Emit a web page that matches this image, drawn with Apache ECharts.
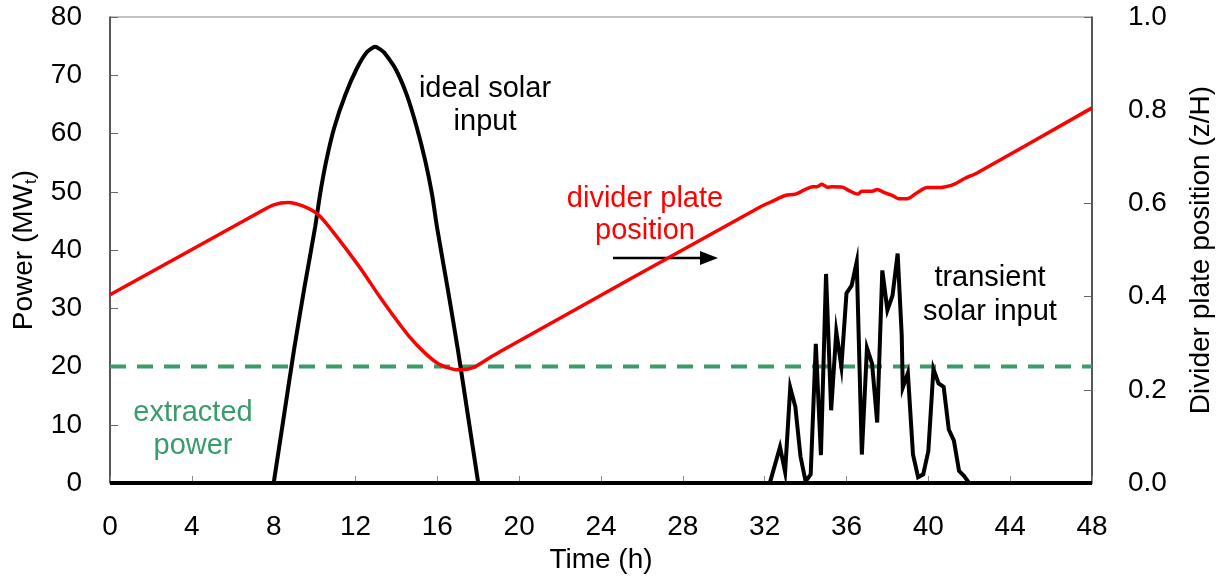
<!DOCTYPE html>
<html>
<head>
<meta charset="utf-8">
<script src="https://cdn.jsdelivr.net/npm/echarts@6/dist/echarts.min.js"></script>
<style>
  html, body { margin: 0; padding: 0; background: #fff; overflow: hidden; }
  #main { width: 1225px; height: 579px; }
</style>
</head>
<body>
<div id="main"></div>
<script>
// zero solar input between the two days, MWt
var baselineTime  = [0, 48];
var baselinePower = [0, 0];

// ideal solar input (first day), MWt
var idealTime  = [8, 8.5, 9, 9.5, 10.03, 10.27, 10.57, 10.96, 11.5, 12.07, 12.56, 12.96, 13.37, 13.94, 14.51, 15, 15.41, 15.74, 15.98, 16.5, 17, 17.5, 18];
var idealPower = [0, 11.5, 23, 33.5, 44, 49.6, 55.3, 61, 66.6, 71.2, 74, 74.9, 74, 71.2, 66.6, 61, 55.3, 49.6, 44, 33.5, 23, 11.5, 0];

// transient solar input (second day), MWt
var transientTime  = [32.25, 32.75, 33, 33.25, 33.5, 33.75, 34, 34.25, 34.5, 34.75, 35, 35.25, 35.5, 35.75, 36, 36.25, 36.5, 36.75, 37, 37.25, 37.5, 37.75, 38, 38.25, 38.5, 38.7, 38.75, 39, 39.25, 39.5, 39.75, 40, 40.25, 40.5, 40.75, 41, 41.25, 41.5, 41.75, 42];
var transientPower = [0, 6.2, 1.9, 16.4, 13.1, 4.6, 0.3, 1.5, 23.9, 4.8, 35.9, 12.5, 26, 20, 32.6, 33.9, 38, 4.9, 23.2, 20.5, 10.4, 36.5, 29.7, 32.2, 39.4, 25.3, 16.4, 18.9, 4.9, 1.0, 1.5, 5.5, 19.6, 17.1, 16.5, 9.2, 7.3, 2.1, 1.2, 0];

// divider plate position z/H (right axis)
var plateTime = [0, 7.34, 8, 8.7, 9.45, 10.2, 10.9, 11.65, 12.4, 13.1, 13.85, 14.6, 15.35, 16.05, 16.8, 17.15, 17.8, 18.6, 19.1, 31.8, 32.45, 33, 33.5, 33.9, 34.35, 34.55, 34.8, 35.05, 35.3, 35.8, 36.1, 36.55, 36.75, 37.25, 37.5, 37.85, 38.25, 38.55, 38.95, 39.45, 39.95, 40.45, 40.85, 41.25, 41.75, 42.4, 48];
var platePos  = [0.404, 0.582, 0.597, 0.602, 0.594, 0.575, 0.539, 0.496, 0.451, 0.405, 0.359, 0.316, 0.281, 0.256, 0.244, 0.243, 0.249, 0.270, 0.283, 0.593, 0.606, 0.617, 0.62, 0.628, 0.636, 0.636, 0.641, 0.635, 0.636, 0.635, 0.628, 0.62, 0.626, 0.626, 0.63, 0.623, 0.617, 0.61, 0.61, 0.623, 0.634, 0.634, 0.636, 0.641, 0.653, 0.666, 0.805];

// extracted power, MWt
var extractedTime  = [0, 48];
var extractedPower = [20, 20];

function pairs(xs, ys) {
    return xs.map(function (x, i) { return [x, ys[i]]; });
}

var FONT = '"Liberation Sans", Arial, sans-serif';
var GREEN = '#3a9b6b';

var myChart = echarts.init(document.getElementById('main'));

// annotation text, centred on x
function label(text, x, y, color, lh) {
    return {
        type: 'text', x: x, y: y,
        style: { text: text, fill: color, font: '29px ' + FONT, align: 'center', verticalAlign: 'top', lineHeight: lh }
    };
}

var option = {
    animation: false,
    textStyle: { fontFamily: FONT },
    grid: {
        left: 110, right: 133, top: 17, bottom: 90,
        show: true, borderColor: '#888', borderWidth: 1
    },
    xAxis: {
        type: 'value', min: 0, max: 48, interval: 4,
        name: 'Time (h)', nameLocation: 'middle', nameGap: 59,
        nameTextStyle: { fontSize: 28, color: '#000', fontFamily: FONT },
        axisLine: { lineStyle: { color: '#888', width: 1 } },
        axisTick: { inside: true, length: 7, lineStyle: { color: '#888' } },
        axisLabel: { margin: 30, fontSize: 28, color: '#000', fontFamily: FONT },
        splitLine: { show: false }
    },
    yAxis: [{
        type: 'value', min: 0, max: 80, interval: 10,
        name: 'Power (MW{sub|t})', nameLocation: 'middle', nameGap: 70, nameRotate: 90,
        nameTextStyle: {
            fontSize: 28, color: '#000', fontFamily: FONT,
            rich: { sub: { fontSize: 17, color: '#000', fontFamily: FONT, verticalAlign: 'bottom', padding: [14, 0, 0, 0] } }
        },
        axisLine: { show: true, lineStyle: { color: '#333', width: 1.5 } },
        axisTick: { show: true, inside: true, length: 8, lineStyle: { color: '#666' } },
        axisLabel: { margin: 28, fontSize: 28, color: '#000', fontFamily: FONT },
        splitLine: { show: false }
    }, {
        type: 'value', min: 0, max: 1, interval: 0.2, position: 'right',
        name: 'Divider plate position (z/H)', nameLocation: 'middle', nameGap: 95, nameRotate: 90,
        nameTextStyle: { fontSize: 28, color: '#000', fontFamily: FONT },
        axisLine: { show: true, lineStyle: { color: '#333', width: 1.5 } },
        axisTick: { show: true, inside: true, length: 8, lineStyle: { color: '#666' } },
        axisLabel: {
            margin: 36, fontSize: 28, color: '#000', fontFamily: FONT,
            formatter: function (v) { return v.toFixed(1); }
        },
        splitLine: { show: false }
    }],
    series: [{
        name: 'extracted power', type: 'line', yAxisIndex: 0,
        data: pairs(extractedTime, extractedPower),
        symbol: 'none',
        lineStyle: { color: GREEN, width: 4, type: [16, 11] }
    }, {
        name: 'zero input', type: 'line', yAxisIndex: 0,
        data: pairs(baselineTime, baselinePower),
        symbol: 'none',
        lineStyle: { color: '#000', width: 4 }
    }, {
        name: 'ideal solar input', type: 'line', yAxisIndex: 0,
        data: pairs(idealTime, idealPower),
        symbol: 'none', smooth: 0.2,
        lineStyle: { color: '#000', width: 4 }
    }, {
        name: 'transient solar input', type: 'line', yAxisIndex: 0,
        data: pairs(transientTime, transientPower),
        symbol: 'none',
        lineStyle: { color: '#000', width: 4, join: 'miter' }
    }, {
        name: 'divider plate position', type: 'line', yAxisIndex: 1,
        data: pairs(plateTime, platePos),
        symbol: 'none', smooth: 0.3,
        lineStyle: { color: '#ff0000', width: 3.5 }
    }],
    graphic: [
        label('ideal solar\ninput', 485, 72, '#000', 33),
        label('divider plate\nposition', 645, 183, '#ff0000', 32),
        label('transient\nsolar input', 990, 261, '#000', 34),
        label('extracted\npower', 193, 396, GREEN, 33),
        { type: 'line', shape: { x1: 613, y1: 258, x2: 702, y2: 258 }, style: { stroke: '#000', lineWidth: 2.5 } },
        { type: 'polygon', shape: { points: [[700, 251], [718, 258], [700, 265]] }, style: { fill: '#000' } }
    ]
};

myChart.setOption(option);
</script>
</body>
</html>
